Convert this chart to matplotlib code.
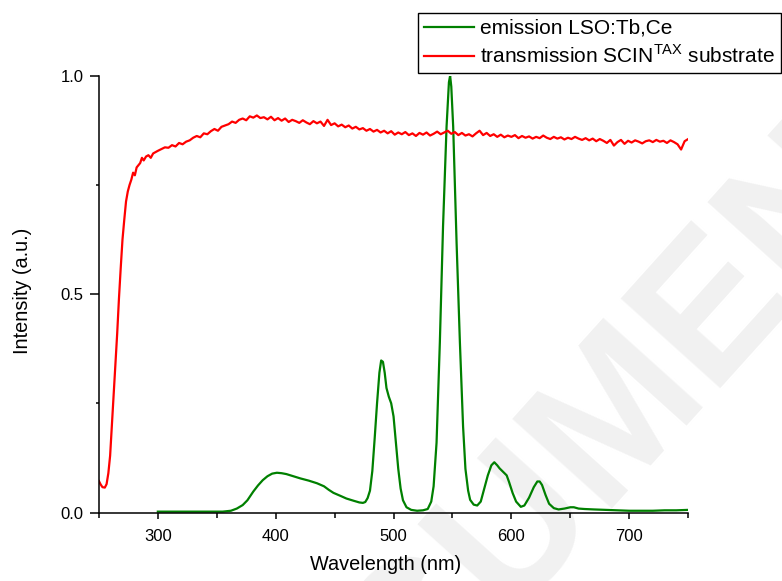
import numpy as np
import matplotlib
matplotlib.use("Agg")
import matplotlib.pyplot as plt
from matplotlib.ticker import MultipleLocator, FormatStrFormatter

plt.rcParams['font.family'] = 'Liberation Sans'
plt.rcParams['mathtext.fontset'] = 'custom'
plt.rcParams['mathtext.rm'] = 'Liberation Sans'

# emission spectrum of the LSO:Tb,Ce film
em_wl = [300, 320, 340, 355, 362, 367, 372, 376, 381, 385, 389, 393, 397, 401, 405,
         409, 415, 421, 428, 435, 441, 445, 449, 455, 460, 466, 471, 474, 476, 478,
         480, 482, 484, 486, 488, 489.5, 491, 492.5, 494, 496, 498, 500, 502, 504,
         506, 508, 511, 515, 520, 525, 529, 532, 534, 536.5, 539.3, 542, 545, 547,
         548, 549, 550.6, 553.5, 556.3, 559, 561, 563.3, 565, 568, 571, 574, 577,
         580, 583, 585.5, 588, 590, 593, 596, 598, 601, 604, 608, 611, 615, 619,
         622, 624, 626, 629, 632, 636, 640, 645, 650, 653, 657, 662, 670, 680, 690,
         700, 710, 720, 730, 740, 750]
em_val = [0.002, 0.002, 0.002, 0.002, 0.004, 0.009, 0.017, 0.028, 0.048, 0.062,
          0.074, 0.083, 0.089, 0.091, 0.090, 0.088, 0.083, 0.078, 0.073, 0.067,
          0.060, 0.052, 0.045, 0.038, 0.032, 0.027, 0.023, 0.022, 0.024, 0.033,
          0.050, 0.095, 0.170, 0.250, 0.320, 0.348, 0.345, 0.320, 0.285, 0.265,
          0.250, 0.220, 0.160, 0.100, 0.055, 0.028, 0.012, 0.006, 0.004, 0.005,
          0.008, 0.025, 0.060, 0.160, 0.390, 0.655, 0.884, 0.985, 1.000, 0.975,
          0.884, 0.617, 0.390, 0.197, 0.100, 0.050, 0.029, 0.018, 0.016, 0.025,
          0.055, 0.085, 0.108, 0.115, 0.108, 0.101, 0.093, 0.085, 0.070, 0.045,
          0.025, 0.013, 0.016, 0.034, 0.058, 0.071, 0.071, 0.063, 0.040, 0.020,
          0.010, 0.007, 0.009, 0.012, 0.012, 0.009, 0.008, 0.007, 0.006, 0.005,
          0.004, 0.004, 0.004, 0.005, 0.005, 0.006]

# transmission of the substrate: absorption edge, then measured trace every 3 nm
tr_edge_wl = [250, 251.5, 253, 255, 256.5, 258, 259.5, 261, 262.5, 264, 265.5, 267,
              268.5, 270, 271.5, 273, 274.5, 276, 277.5, 279, 280.5, 282, 283.5,
              285, 286.5, 288, 290, 292, 294, 296, 298]
tr_edge_val = [0.072, 0.064, 0.058, 0.057, 0.065, 0.090, 0.130, 0.200, 0.270, 0.340,
               0.410, 0.490, 0.560, 0.625, 0.670, 0.712, 0.735, 0.750, 0.762, 0.778,
               0.772, 0.790, 0.795, 0.800, 0.812, 0.806, 0.815, 0.818, 0.812, 0.822,
               0.825]
tr_wl = list(range(300, 751, 3))
tr_val = [0.828, 0.832, 0.836, 0.835, 0.841, 0.838, 0.846, 0.843, 0.849, 0.852,
          0.858, 0.862, 0.859, 0.868, 0.866, 0.873, 0.878, 0.874, 0.883, 0.886,
          0.889, 0.895, 0.892, 0.899, 0.902, 0.898, 0.907, 0.904, 0.909, 0.903,
          0.905, 0.900, 0.906, 0.898, 0.903, 0.897, 0.902, 0.894, 0.899, 0.896,
          0.892, 0.898, 0.893, 0.889, 0.896, 0.891, 0.895, 0.885, 0.899, 0.887,
          0.891, 0.884, 0.888, 0.882, 0.886, 0.879, 0.883, 0.877, 0.880, 0.874,
          0.878, 0.872, 0.876, 0.870, 0.874, 0.868, 0.873, 0.865, 0.870, 0.866,
          0.871, 0.864, 0.868, 0.862, 0.869, 0.865, 0.870, 0.863, 0.867, 0.872,
          0.866, 0.870, 0.874, 0.867, 0.871, 0.864, 0.869, 0.863, 0.866, 0.861,
          0.868, 0.874, 0.864, 0.869, 0.862, 0.866, 0.860, 0.865, 0.859, 0.863,
          0.860, 0.864, 0.857, 0.862, 0.858, 0.861, 0.856, 0.860, 0.857, 0.863,
          0.858, 0.855, 0.860, 0.856, 0.859, 0.854, 0.858, 0.855, 0.860, 0.856,
          0.853, 0.857, 0.852, 0.856, 0.850, 0.855, 0.851, 0.846, 0.853, 0.840,
          0.848, 0.853, 0.844, 0.851, 0.847, 0.852, 0.849, 0.845, 0.850, 0.852,
          0.848, 0.853, 0.849, 0.851, 0.846, 0.852, 0.848, 0.843, 0.831, 0.850,
          0.855]

fig = plt.figure(figsize=(7.82, 5.81), dpi=100)
ax = fig.add_axes([0.1265, 0.1179, 0.7535, 0.7518])
ax.patch.set_visible(False)
ax.set_zorder(2)

# faint diagonal stamp behind the plot
fig.text(0.71, 0.17, 'DOCUMENT', rotation=48, color='#f1f1f1', fontsize=140,
         fontweight='bold', ha='center', va='center', zorder=0)

ax.plot(em_wl, em_val, color='#008000', lw=1.6, label='emission LSO:Tb,Ce')
ax.plot(tr_edge_wl + tr_wl, tr_edge_val + tr_val, color='#ff0000', lw=1.6,
        label=r'transmission SCIN$^{\mathrm{TAX}}$ substrate')

ax.set_xlim(250, 750)
ax.set_ylim(0, 1.0)
ax.xaxis.set_major_locator(MultipleLocator(100))
ax.xaxis.set_minor_locator(MultipleLocator(50))
ax.yaxis.set_major_locator(MultipleLocator(0.5))
ax.yaxis.set_minor_locator(MultipleLocator(0.25))
ax.yaxis.set_major_formatter(FormatStrFormatter('%.1f'))

for side in ['top', 'right']:
    ax.spines[side].set_visible(False)
for side in ['left', 'bottom']:
    ax.spines[side].set_linewidth(1.1)

ax.tick_params(axis='both', which='both', direction='out', width=1.1, labelsize=12)
ax.tick_params(axis='x', which='major', length=4, pad=8)
ax.tick_params(axis='x', which='minor', length=3.5)
ax.tick_params(axis='y', which='major', length=6.5, pad=4.5)
ax.tick_params(axis='y', which='minor', length=2.5)

ax.set_xlabel('Wavelength (nm)', fontsize=14.3)
ax.set_ylabel('Intensity (a.u.)', fontsize=14.3)
ax.xaxis.set_label_coords(0.487, -0.098)
ax.yaxis.set_label_coords(-0.113, 0.507)

leg = fig.legend(loc='upper left', bbox_to_anchor=(418 / 782, 1 - 13 / 581),
                 bbox_transform=fig.transFigure, fontsize=15.0, frameon=True,
                 fancybox=False, edgecolor='black', framealpha=1, borderaxespad=0,
                 borderpad=0.28, labelspacing=0.32, handlelength=2.4,
                 handletextpad=0.3)
leg.set_zorder(3)

fig.savefig('out.png', dpi=100)
